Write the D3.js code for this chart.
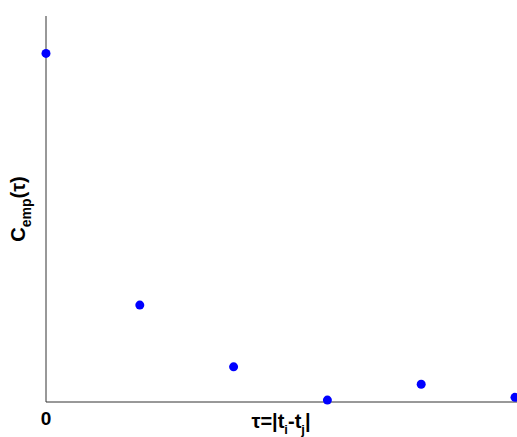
<!DOCTYPE html>
<html>
<head>
<meta charset="utf-8">
<script src="https://cdn.jsdelivr.net/npm/d3@7"></script>
<style>
  body { margin: 0; background: #fff; }
  text { font-family: "Liberation Sans", Arial, sans-serif; font-weight: bold; }
</style>
</head>
<body>
<svg id="chart" width="517" height="437"></svg>
<script>
// lag values and empirical correlation
const lags = [0, 1, 2, 3, 4, 5];
const corr = [0.903, 0.251, 0.091, 0.005, 0.046, 0.012];
const xTicks = [0];

const svg = d3.select("#chart");
const margin = {left: 46, top: 16, right: 0, bottom: 35};
const width = 517, height = 437;

const x = d3.scaleLinear().domain([0, 5]).range([margin.left, 515]);
const y = d3.scaleLinear().domain([0, 1]).range([height - margin.bottom, margin.top]);

// axes (plain lines, no ticks)
svg.append("line")
  .attr("x1", margin.left).attr("x2", margin.left)
  .attr("y1", y(1)).attr("y2", y(0))
  .attr("stroke", "#333").attr("stroke-width", 1);
svg.append("line")
  .attr("x1", margin.left).attr("x2", width)
  .attr("y1", y(0)).attr("y2", y(0))
  .attr("stroke", "#333").attr("stroke-width", 1);

svg.selectAll(".tick")
  .data(xTicks)
  .enter().append("text")
  .attr("class", "tick")
  .attr("x", d => x(d))
  .attr("y", y(0) + 23)
  .attr("text-anchor", "middle")
  .attr("font-size", 19)
  .text(d => d);

// points
svg.selectAll("circle")
  .data(lags)
  .enter().append("circle")
  .attr("cx", d => x(d))
  .attr("cy", (d, i) => y(corr[i]))
  .attr("r", 4.5)
  .attr("fill", "#0000ff");

// x label
const xl = svg.append("text")
  .attr("x", 281)
  .attr("y", y(0) + 26)
  .attr("text-anchor", "middle")
  .attr("font-size", 20);
xl.append("tspan").text("τ=|t");
xl.append("tspan").attr("font-size", 13).attr("dy", 6).text("i");
xl.append("tspan").attr("dy", -6).text("-t");
xl.append("tspan").attr("font-size", 13).attr("dy", 6).text("j");
xl.append("tspan").attr("dy", -6).text("|");

// y label
const yl = svg.append("text")
  .attr("transform", "translate(25," + ((y(0) + y(1)) / 2) + ") rotate(-90)")
  .attr("text-anchor", "middle")
  .attr("font-size", 20);
yl.append("tspan").text("C");
yl.append("tspan").attr("font-size", 14).attr("dy", 6).text("emp");
yl.append("tspan").attr("dy", -6).text("(τ)");
</script>
</body>
</html>
